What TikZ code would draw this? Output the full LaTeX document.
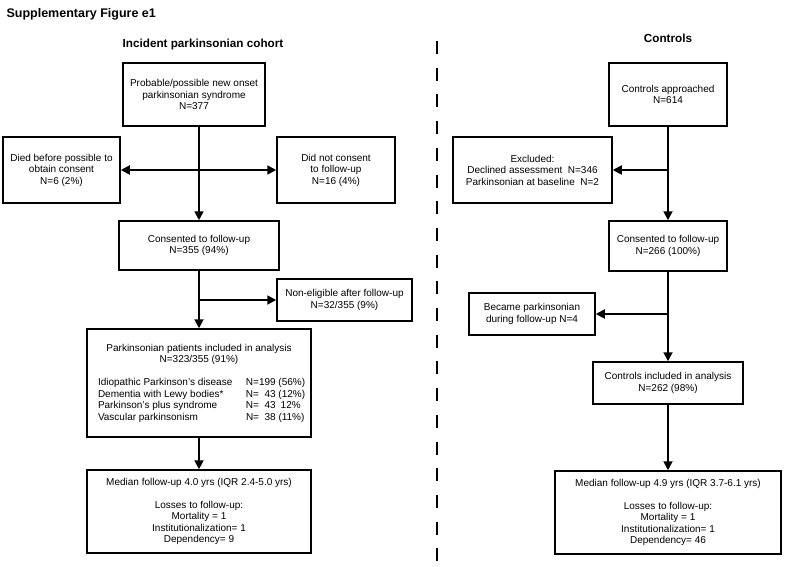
\documentclass[tikz,border=0pt]{standalone}
\usepackage{fontspec}
\setmainfont{Liberation Sans}
\usetikzlibrary{arrows.meta}
\begin{document}
\begin{tikzpicture}[x=1pt,y=-1pt,
    box/.style={draw,line width=1.5pt,inner sep=0pt,align=center,font=\fontsize{10}{11.5}\selectfont},
    arr/.style={line width=1.8pt,-{Triangle[length=9pt,width=9pt]}},
    head/.style={font=\bfseries\fontsize{11.7}{14}\selectfont}]
    \useasboundingbox (0,0) rectangle (787,567);

    % headings
    \node at (3,14) [anchor=west,font=\bfseries\fontsize{12.5}{14}\selectfont] (fig) {Supplementary Figure e1};
    \node at (203,44) [head] (cohort) {Incident parkinsonian cohort};
    \node at (668,38) [head] (ctrl) {Controls};

    % separator
    \draw [line width=2pt,dash pattern=on 13pt off 13.7pt] (437,41) -- (437,562);

    % incident cohort
    \node at (194,94.5) [box,minimum width=142pt,minimum height=63pt] (start) {Probable/possible new onset\\parkinsonian syndrome\\N=377};
    \node at (61.5,170) [box,minimum width=117pt,minimum height=66pt] (died) {Died before possible to\\obtain consent\\N=6 (2\%)};
    \node at (336,170) [box,minimum width=118pt,minimum height=66pt] (nocons) {Did not consent\\to follow-up\\N=16 (4\%)};
    \node at (199,245.5) [box,minimum width=160pt,minimum height=49pt] (consL) {Consented to follow-up\\N=355 (94\%)};
    \node at (344.5,300) [box,minimum width=135pt,minimum height=42pt] (nonel) {Non-eligible after follow-up\\N=32/355 (9\%)};
    \node at (199,383) [box,minimum width=224pt,minimum height=108pt] (inclL) {Parkinsonian patients included in analysis\\N=323/355 (91\%)\\[11.5pt]
        \makebox[148pt][l]{Idiopathic Parkinson's disease}\makebox[54pt][l]{N=199 (56\%)}\\
        \makebox[148pt][l]{Dementia with Lewy bodies*}\makebox[54pt][l]{N=\hphantom{1}43 (12\%)}\\
        \makebox[148pt][l]{Parkinson's plus syndrome}\makebox[54pt][l]{N=\hphantom{1}43\hphantom{(}\,12\%}\\
        \makebox[148pt][l]{Vascular parkinsonism}\makebox[54pt][l]{N=\hphantom{1}38 (11\%)}};
    \node at (199,511.5) [box,minimum width=224pt,minimum height=83pt] (medL) {Median follow-up 4.0 yrs (IQR 2.4-5.0 yrs)\\[11.5pt]
        Losses to follow-up:\\Mortality = 1\\Institutionalization= 1\\Dependency= 9};

    \coordinate (jA) at (consL.north |- died.east);
    \coordinate (jB) at (consL.south |- nonel.west);
    \draw [arr] (start.south -| consL.north) -- (consL.north);
    \draw [arr] (jA) -- (died.east);
    \draw [arr] (jA) -- (nocons.west);
    \draw [arr] (consL.south) -- (inclL.north);
    \draw [arr] (jB) -- (nonel.west);
    \draw [arr] (inclL.south) -- (medL.north);

    % controls
    \node at (668,94.5) [box,minimum width=118pt,minimum height=63pt] (appr) {Controls approached\\N=614};
    \node at (532.5,170) [box,minimum width=159pt,minimum height=66pt] (excl) {Excluded:\\Declined assessment~~N=346\\Parkinsonian at baseline~~N=2};
    \node at (668,246) [box,minimum width=118pt,minimum height=50pt] (consR) {Consented to follow-up\\N=266 (100\%)};
    \node at (532,314) [box,minimum width=126pt,minimum height=42pt] (became) {Became parkinsonian\\during follow-up N=4};
    \node at (668,383) [box,minimum width=150pt,minimum height=42pt] (inclR) {Controls included in analysis\\N=262 (98\%)};
    \node at (668,512.5) [box,minimum width=226pt,minimum height=83pt] (medR) {Median follow-up 4.9 yrs (IQR 3.7-6.1 yrs)\\[11.5pt]
        Losses to follow-up:\\Mortality = 1\\Institutionalization= 1\\Dependency= 46};

    \coordinate (jC) at (consR.north |- excl.east);
    \coordinate (jD) at (consR.south |- became.east);
    \draw [arr] (appr.south) -- (consR.north);
    \draw [arr] (jC) -- (excl.east);
    \draw [arr] (consR.south) -- (inclR.north);
    \draw [arr] (jD) -- (became.east);
    \draw [arr] (inclR.south) -- (medR.north);
\end{tikzpicture}
\end{document}
